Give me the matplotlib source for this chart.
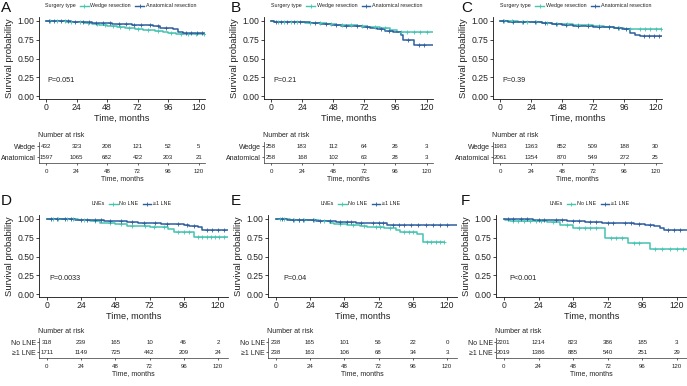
import numpy as np
import matplotlib

matplotlib.use("Agg")
import matplotlib.pyplot as plt  # noqa: E402
from matplotlib.lines import Line2D  # noqa: E402

plt.rcParams["font.family"] = ["Liberation Sans", "DejaVu Sans"]

W, H = 687, 386
TEAL = "#45C4B2"
BLUE = "#2D5E9E"
INK = "#222222"

TIME_TICKS = [0, 24, 48, 72, 96, 120]
SURV_TICKS = [0.0, 0.25, 0.5, 0.75, 1.0]

# ---- A: surgery type, all patients
a_wedge_t = [0, 8, 16, 24, 30, 36, 42, 48, 56, 62, 70, 76, 86, 92, 96, 102]
a_wedge_s = [1.0, 0.995, 0.99, 0.982, 0.97, 0.955, 0.945, 0.934, 0.92, 0.905, 0.895, 0.875, 0.865, 0.855, 0.835, 0.82]
a_wedge_c = [3, 9, 15, 20, 27, 33, 40, 46, 53, 58, 65, 72, 80, 88, 98, 106, 112, 118, 124]
a_anat_t = [0, 10, 20, 28, 36, 44, 52, 60, 68, 76, 84, 90, 100, 104, 108]
a_anat_s = [1.0, 0.995, 0.988, 0.982, 0.975, 0.966, 0.958, 0.952, 0.945, 0.938, 0.928, 0.91, 0.886, 0.846, 0.835]
a_anat_c = [2, 6, 12, 17, 23, 29, 34, 39, 45, 50, 57, 63, 69, 75, 82, 88, 94, 110, 114, 119, 123]
a_wedge_risk = [432, 323, 208, 121, 52, 5]
a_anat_risk = [1597, 1065, 682, 422, 203, 21]

# ---- B
b_wedge_t = [0, 2, 26, 34, 42, 50, 58, 66, 74, 84, 92, 97]
b_wedge_s = [1.0, 0.985, 0.975, 0.965, 0.955, 0.948, 0.94, 0.93, 0.92, 0.905, 0.88, 0.845]
b_wedge_c = [5, 10, 15, 20, 30, 38, 46, 55, 62, 70, 80, 88, 100, 105, 110, 115, 120]
b_anat_t = [0, 2, 24, 30, 38, 46, 54, 62, 70, 76, 82, 88, 94, 100, 102, 110]
b_anat_s = [1.0, 0.985, 0.978, 0.965, 0.955, 0.945, 0.935, 0.925, 0.915, 0.9, 0.885, 0.87, 0.845, 0.815, 0.745, 0.685]
b_anat_c = [4, 8, 12, 18, 22, 34, 42, 50, 58, 66, 74, 85, 91, 106, 114, 118]
b_wedge_risk = [258, 183, 112, 64, 26, 3]
b_anat_risk = [258, 168, 102, 63, 28, 3]

# ---- C
c_wedge_t = [0, 6, 14, 24, 32, 40, 48, 56, 64, 72, 80, 88, 96, 104]
c_wedge_s = [1.0, 0.992, 0.988, 0.984, 0.975, 0.962, 0.952, 0.946, 0.94, 0.932, 0.92, 0.91, 0.895, 0.885]
c_wedge_c = [3, 9, 17, 21, 28, 36, 44, 52, 60, 68, 76, 84, 92, 100, 108, 112, 116, 120, 124]
c_anat_t = [0, 6, 14, 24, 32, 40, 48, 56, 64, 72, 80, 88, 94, 100, 104, 108]
c_anat_s = [1.0, 0.99, 0.986, 0.982, 0.972, 0.955, 0.944, 0.937, 0.93, 0.924, 0.912, 0.9, 0.885, 0.84, 0.815, 0.795]
c_anat_c = [2, 10, 18, 27, 35, 43, 51, 60, 68, 76, 84, 91, 97, 111, 115, 119, 123]
c_wedge_risk = [1983, 1363, 852, 509, 188, 30]
c_anat_risk = [2061, 1354, 870, 549, 272, 25]

# ---- D: lymph node examination
d_none_t = [0, 10, 22, 30, 37, 41, 48, 56, 66, 72, 79, 85, 89, 103]
d_none_s = [1.0, 0.995, 0.985, 0.975, 0.95, 0.94, 0.925, 0.91, 0.9, 0.895, 0.885, 0.86, 0.83, 0.755]
d_none_c = [4, 8, 14, 18, 26, 34, 44, 52, 60, 69, 75, 82, 92, 96, 100, 106, 109, 112, 115, 118, 121, 124]
d_lne_t = [0, 10, 20, 30, 40, 48, 56, 64, 72, 80, 88, 96, 100, 106, 109]
d_lne_s = [1.0, 0.995, 0.99, 0.983, 0.972, 0.965, 0.958, 0.95, 0.942, 0.935, 0.928, 0.92, 0.905, 0.885, 0.855]
d_lne_c = [3, 7, 13, 17, 24, 28, 34, 38, 44, 52, 60, 68, 76, 84, 92, 98, 103, 112, 116, 120, 124]
d_none_risk = [318, 239, 165, 10, 46, 2]
d_lne_risk = [1711, 1149, 725, 442, 209, 24]

# ---- E
e_none_t = [0, 10, 24, 30, 38, 41, 50, 59, 64, 76, 84, 87, 99, 103.5]
e_none_s = [1.0, 0.99, 0.985, 0.975, 0.95, 0.93, 0.92, 0.91, 0.89, 0.875, 0.85, 0.83, 0.795, 0.69]
e_none_c = [3, 6, 13, 16, 20, 27, 34, 45, 54, 62, 70, 73, 80, 90, 93, 96, 106, 109, 112, 115, 118]
e_lne_t = [0, 8, 22, 28, 34, 42, 56, 64, 78]
e_lne_s = [1.0, 0.99, 0.985, 0.975, 0.965, 0.955, 0.948, 0.94, 0.915]
e_lne_c = [4, 12, 16, 19, 26, 31, 38, 45, 50, 53, 60, 68, 72, 75, 82, 86, 90, 95, 100, 105, 110, 115, 120]
e_none_risk = [238, 165, 101, 56, 22, 0]
e_lne_risk = [238, 163, 106, 68, 34, 3]
E_NONE_END = 118

# ---- F
f_none_t = [0, 1, 4, 30, 39, 48, 70, 86, 101]
f_none_s = [1.0, 0.982, 0.968, 0.962, 0.92, 0.875, 0.75, 0.673, 0.595]
f_none_c = [6, 10, 14, 18, 22, 26, 34, 44, 52, 56, 60, 64, 74, 78, 82, 90, 94, 105, 110, 115, 120, 124]
f_lne_t = [0, 8, 20, 32, 44, 56, 68, 80, 90, 98, 104, 108, 111]
f_lne_s = [1.0, 0.995, 0.99, 0.98, 0.97, 0.96, 0.95, 0.94, 0.93, 0.92, 0.9, 0.875, 0.853]
f_lne_c = [3, 6, 12, 16, 24, 28, 36, 40, 48, 52, 60, 64, 72, 76, 84, 88, 94, 101, 114, 118, 122]
f_none_risk = [2201, 1214, 823, 386, 185, 3]
f_lne_risk = [2019, 1386, 885, 540, 251, 29]

SURGERY = ("Surgery type", "Wedge resection", "Anatomical resection", "Wedge", "Anatomical")
LNES = ("LNEs", "No LNE", "\u22651 LNE", "No LNE", "\u22651 LNE")

panels = [
    ("A", SURGERY, (a_wedge_t, a_wedge_s, a_wedge_c, 125), (a_anat_t, a_anat_s, a_anat_c, 125),
     a_wedge_risk, a_anat_risk, "P=0.051", 1.0),
    ("B", SURGERY, (b_wedge_t, b_wedge_s, b_wedge_c, 125), (b_anat_t, b_anat_s, b_anat_c, 125),
     b_wedge_risk, b_anat_risk, "P=0.21", 2.0),
    ("C", SURGERY, (c_wedge_t, c_wedge_s, c_wedge_c, 125), (c_anat_t, c_anat_s, c_anat_c, 125),
     c_wedge_risk, c_anat_risk, "P=0.39", 2.0),
    ("D", LNES, (d_none_t, d_none_s, d_none_c, 127), (d_lne_t, d_lne_s, d_lne_c, 127),
     d_none_risk, d_lne_risk, "P=0.0033", 2.0),
    ("E", LNES, (e_none_t, e_none_s, e_none_c, E_NONE_END), (e_lne_t, e_lne_s, e_lne_c, 127),
     e_none_risk, e_lne_risk, "P=0.04", 5.0),
    ("F", LNES, (f_none_t, f_none_s, f_none_c, 127), (f_lne_t, f_lne_s, f_lne_c, 127),
     f_none_risk, f_lne_risk, "P<0.001", 3.5),
]

# pixel boxes (left, right) per column, and (top, bottom) per row
COLS = [[(39, 205), (264, 433), (493, 662)], [(39, 228), (268, 457), (496, 687)]]
MAIN_ROWS = [(17, 99), (215, 297)]
TABLE_ROWS = [(142, 163), (338, 358)]
XLIMS = [(-5.5, 125), (-5.5, 127)]
LETTER_Y = [8, 201]


def px_rect(left, right, top, bottom):
    return [left / W, 1 - bottom / H, (right - left) / W, (bottom - top) / H]


def km(ax, curve, color):
    t, s, cens, end = curve
    t = np.asarray(t, float)
    s = np.asarray(s, float)
    ax.step(np.append(t, end), np.append(s, s[-1]), where="post", color=color, lw=1.1, zorder=3)
    c = np.asarray(cens, float)
    c = c[c <= end]
    cy = s[np.searchsorted(t, c, side="right") - 1]
    ax.plot(c, cy, ls="none", marker="+", ms=2.4, mew=0.6, color=color, zorder=4)


fig = plt.figure(figsize=(W / 100, H / 100), dpi=100)
fig.patch.set_facecolor("white")

for i, (letter, names, c1, c2, r1, r2, ptxt, px) in enumerate(panels):
    row, col = divmod(i, 3)
    left, right = COLS[row][col]
    top, bottom = MAIN_ROWS[row]
    ax = fig.add_axes(px_rect(left, right, top, bottom))
    km(ax, c1, TEAL)
    km(ax, c2, BLUE)
    ax.set_xlim(*XLIMS[row])
    ax.set_ylim(-0.035, 1.05)
    ax.set_xticks(TIME_TICKS)
    ax.set_yticks(SURV_TICKS)
    ax.set_yticklabels([f"{v:.2f}" for v in SURV_TICKS])
    ax.spines[["top", "right"]].set_visible(False)
    for sp in ("left", "bottom"):
        ax.spines[sp].set_linewidth(0.6)
        ax.spines[sp].set_color("#111111")
    ax.tick_params(labelsize=6.2, colors=INK, length=2, width=0.6, pad=1.2)
    ax.set_xlabel("Time, months", fontsize=6.6, color=INK, labelpad=1)
    ax.set_ylabel("Survival probability", fontsize=6.8, color=INK, labelpad=2.5)
    ax.text(px, 0.21, ptxt, fontsize=5.2, color=INK, va="center", ha="left")

    handles = [
        Line2D([], [], color="none"),
        Line2D([], [], color=TEAL, lw=1.0, marker="+", ms=2.4, mew=0.6),
        Line2D([], [], color=BLUE, lw=1.0, marker="+", ms=2.4, mew=0.6),
    ]
    ax.legend(handles, names[:3], loc="center", bbox_to_anchor=(0.46, 1.135), ncol=3, frameon=False,
              fontsize=3.9, handlelength=1.6, handletextpad=0.3, columnspacing=0.8, borderpad=0,
              labelcolor=INK)

    fig.text((col * 230 + 1) / W, 1 - LETTER_Y[row] / H, letter,
             fontsize=11, color="#111111", va="center", ha="left")

    # risk table
    ttop, tbot = TABLE_ROWS[row]
    tx = fig.add_axes(px_rect(left, right, ttop, tbot))
    tx.set_xlim(*XLIMS[row])
    tx.set_ylim(0.45, 2.4)
    for yv, counts in ((2, r1), (1, r2)):
        for tt, n in zip(TIME_TICKS, counts):
            tx.text(tt, yv, str(n), fontsize=4.4, color=INK, ha="center", va="center")
    tx.set_xticks(TIME_TICKS)
    tx.set_yticks([2, 1])
    tx.set_yticklabels(names[3:])
    tx.spines[["top", "right"]].set_visible(False)
    for sp in ("left", "bottom"):
        tx.spines[sp].set_linewidth(0.5)
        tx.spines[sp].set_color("#333333")
    tx.tick_params(axis="x", labelsize=4.4, colors=INK, length=1.5, width=0.5, pad=2.5)
    tx.tick_params(axis="y", labelsize=5, colors=INK, length=1.5, width=0.5, pad=0.8)
    tx.set_xlabel("Time, months", fontsize=5, color=INK, labelpad=1)
    tx.annotate("Number at risk", xy=(0, 1), xycoords="axes fraction", xytext=(-0.5, 4.8),
                textcoords="offset points", fontsize=5, color=INK, ha="left", va="center")

fig.savefig("out.png", dpi=100, facecolor="white")
